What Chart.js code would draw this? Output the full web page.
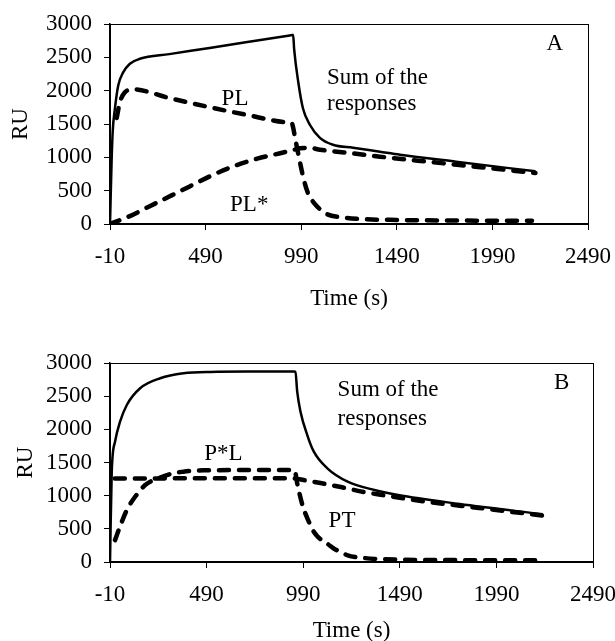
<!DOCTYPE html>
<html>
<head>
<meta charset="utf-8">
<script src="https://cdn.jsdelivr.net/npm/chart.js@4.4.1/dist/chart.umd.min.js"></script>
<style>
    html, body { margin: 0; padding: 0; background: #fff; overflow: hidden; }
    #wrap { position: relative; width: 615px; height: 641px; overflow: hidden; }
    #chartA { position: absolute; left: 0; top: 0; }
    #chartB { position: absolute; left: 0; top: 320px; }
</style>
</head>
<body>
<div id="wrap">
    <canvas id="chartA" width="615" height="320"></canvas>
    <canvas id="chartB" width="615" height="340"></canvas>
</div>
<script>
// Axis ticks (same for both panels)
const xTicks = [-10, 490, 990, 1490, 1990, 2490];
const yTicks = [0, 500, 1000, 1500, 2000, 2500, 3000];

// Panel A - sum of the responses (s, RU)
const sumA_t = [-10, -2, 4, 16, 33, 58, 94, 146, 300, 511, 700, 930, 944, 948, 953, 975, 999, 1036, 1088, 1156, 1261, 1402, 1507, 1800, 2215];
const sumA_v = [0, 900, 1380, 1737, 2077, 2270, 2404, 2478, 2548, 2641, 2726, 2829, 2835, 2836, 2627, 2123, 1737, 1485, 1292, 1188, 1143, 1084, 1040, 935, 790];
// Panel A - PL
const plA_t = [25, 42, 68, 110, 300, 511, 700, 930, 940, 962, 984, 1005, 1028, 1060, 1088, 1124, 1192, 1300, 1500, 1800, 2197];
const plA_v = [1590, 1830, 1975, 2020, 1890, 1752, 1640, 1521, 1515, 1230, 920, 650, 446, 305, 223, 149, 104, 75, 60, 52, 48];
// Panel A - PL*
const plsA_t = [-10, 94, 198, 303, 407, 511, 631, 760, 891, 948, 983, 1040, 1088, 1229, 1402, 1600, 1900, 2215];
const plsA_v = [0, 119, 267, 416, 564, 713, 861, 980, 1069, 1110, 1135, 1140, 1114, 1069, 1010, 950, 860, 765];

// Panel B - sum of the responses
const sumB_t = [-10, -1, 16, 42, 77, 146, 250, 370, 510, 700, 940, 950, 959, 976, 1011, 1045, 1115, 1220, 1359, 1481, 1800, 2230];
const sumB_v = [0, 1360, 1813, 2115, 2367, 2619, 2770, 2845, 2866, 2870, 2870, 2868, 2567, 2266, 1914, 1663, 1412, 1211, 1085, 1009, 875, 720];
// Panel B - P*L
const pslB_t = [15, 200, 500, 800, 935, 948, 992, 1080, 1185, 1305, 1400, 1600, 1900, 2230];
const pslB_v = [1258, 1260, 1262, 1262, 1260, 1257, 1235, 1190, 1130, 1055, 1010, 920, 815, 700];
// Panel B - PT
const ptB_t = [16, 45, 77, 120, 172, 214, 266, 312, 370, 416, 474, 700, 935, 946, 958, 970, 990, 1011, 1040, 1063, 1090, 1115, 1150, 1185, 1220, 1305, 1500, 1800, 2190];
const ptB_v = [330, 560, 783, 983, 1160, 1234, 1290, 1335, 1362, 1375, 1382, 1386, 1386, 1383, 1200, 1040, 820, 663, 480, 390, 320, 275, 200, 150, 100, 60, 35, 28, 25];

const FONT = '"Liberation Serif", "Times New Roman", serif';
const FS = 23;

function pts(ts, vs) {
    return ts.map((t, i) => ({x: t, y: vs[i]}));
}

function solid(ts, vs) {
    return {
        data: pts(ts, vs),
        borderColor: '#000',
        borderWidth: 2.5,
        pointRadius: 0,
        cubicInterpolationMode: 'monotone',
        fill: false
    };
}

function dashed(ts, vs) {
    return {
        data: pts(ts, vs),
        borderColor: '#000',
        borderWidth: 4.5,
        borderDash: [10, 10],
        borderCapStyle: 'round',
        pointRadius: 0,
        cubicInterpolationMode: 'monotone',
        fill: false
    };
}

// frame round the plot area
const framePlugin = {
    id: 'frame',
    afterDatasetsDraw(chart) {
        const {ctx, chartArea: a} = chart;
        ctx.save();
        ctx.strokeStyle = '#000';
        ctx.lineWidth = 1;
        ctx.strokeRect(a.left + 0.5, a.top + 0.5, a.right - a.left, a.bottom - a.top);
        ctx.restore();
    }
};

// text labels placed in data units
const textPlugin = {
    id: 'texts',
    afterDraw(chart, args, opts) {
        const {ctx, scales: {x, y}} = chart;
        ctx.save();
        ctx.font = FS + 'px ' + FONT;
        ctx.fillStyle = '#000';
        ctx.textBaseline = 'middle';
        for (let l of opts.items || []) {
            ctx.textAlign = l.align || 'center';
            ctx.fillText(l.text, x.getPixelForValue(l.t), y.getPixelForValue(l.v));
        }
        ctx.restore();
    }
};

function make_chart(id, datasets, s) {
    const ctx = document.getElementById(id).getContext('2d');
    return new Chart(ctx, {
        type: 'line',
        data: { datasets: datasets },
        plugins: [framePlugin, textPlugin],
        options: {
            responsive: false,
            animation: false,
            devicePixelRatio: 1,
            layout: { padding: { left: 0, top: s.top, right: s.right, bottom: 0 } },
            plugins: {
                legend: { display: false },
                tooltip: { enabled: false },
                texts: { items: s.texts }
            },
            scales: {
                x: {
                    type: 'linear',
                    min: -10,
                    max: 2490,
                    afterBuildTicks: (scale) => { scale.ticks = xTicks.map(v => ({value: v})); },
                    afterFit: (scale) => {
                        scale.height = s.xHeight;
                        scale.paddingLeft = 0;
                        scale.paddingRight = 0;
                    },
                    ticks: { color: '#000', font: { size: FS, family: FONT }, padding: 13, maxRotation: 0, autoSkip: false,
                             callback: (v) => String(v) },
                    grid: { display: true, drawOnChartArea: false, drawTicks: true, tickLength: 6, color: '#000', lineWidth: 1 },
                    border: { display: true, color: '#000', width: 1.5 },
                    title: { display: true, text: 'Time (s)', color: '#000', font: { size: FS, family: FONT }, padding: { top: 0, bottom: s.titleBottom } }
                },
                y: {
                    min: 0,
                    max: 3000,
                    afterBuildTicks: (scale) => { scale.ticks = yTicks.map(v => ({value: v})); },
                    afterFit: (scale) => {
                        scale.width = 110;
                        scale.paddingTop = 0;
                        scale.paddingBottom = 0;
                    },
                    ticks: { color: '#000', font: { size: FS, family: FONT }, padding: 12, callback: (v) => String(v) },
                    grid: { display: true, drawOnChartArea: false, drawTicks: true, tickLength: 6, color: '#000', lineWidth: 1 },
                    border: { display: true, color: '#000', width: 1.5 },
                    title: { display: true, text: 'RU', color: '#000', font: { size: FS, family: FONT }, padding: { top: s.ruPad, bottom: 0 } }
                }
            }
        }
    });
}

make_chart('chartA', [
    solid(sumA_t, sumA_v),
    dashed(plA_t, plA_v),
    dashed(plsA_t, plsA_v)
], {
    top: 24, right: 27, xHeight: 96, titleBottom: 7, ruPad: 7,
    texts: [
        {text: 'A', t: 2317, v: 2707},
        {text: 'Sum of the', t: 1125, v: 2196, align: 'left'},
        {text: 'responses', t: 1125, v: 1796, align: 'left'},
        {text: 'PL', t: 644, v: 1870},
        {text: 'PL*', t: 618, v: 286, align: 'left'}
    ]
});

make_chart('chartB', [
    solid(sumB_t, sumB_v),
    dashed(pslB_t, pslB_v),
    dashed(ptB_t, ptB_v)
], {
    top: 43, right: 22, xHeight: 98, titleBottom: 15, ruPad: 12,
    texts: [
        {text: 'B', t: 2328, v: 2695},
        {text: 'Sum of the', t: 1168, v: 2595, align: 'left'},
        {text: 'responses', t: 1168, v: 2153, align: 'left'},
        {text: 'P*L', t: 577, v: 1624},
        {text: 'PT', t: 1191, v: 620}
    ]
});
</script>
</body>
</html>
